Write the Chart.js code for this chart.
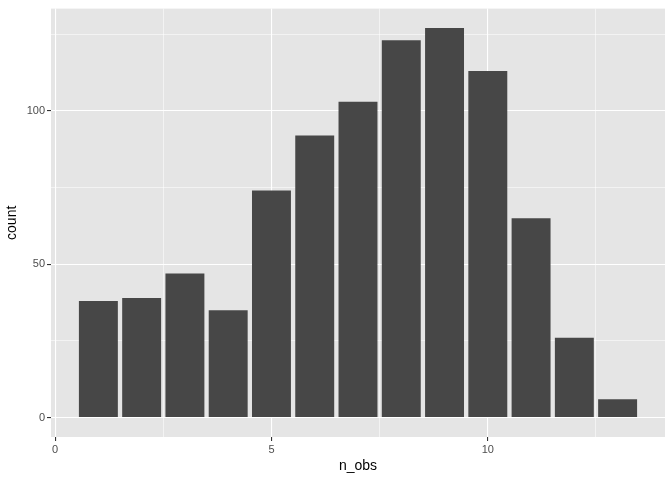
<!DOCTYPE html>
<html>
<head>
<meta charset="utf-8">
<script src="https://cdn.jsdelivr.net/npm/chart.js@4"></script>
<style>
  html, body { margin: 0; padding: 0; background: #ffffff; }
  #wrap { width: 672px; height: 480px; }
</style>
</head>
<body>
<div id="wrap"><canvas id="grafico"></canvas></div>
<script>
// Dados
const nObs = [1, 2, 3, 4, 5, 6, 7, 8, 9, 10, 11, 12, 13];
const contagens = [38, 39, 47, 35, 74, 92, 103, 123, 127, 113, 65, 26, 6];

// Linhas de grade (principais e secundárias) e rótulos dos eixos
const gradeX = [0, 2.5, 5, 7.5, 10, 12.5];
const rotulosX = [0, 5, 10];
const gradeY = [0, 25, 50, 75, 100, 125];
const rotulosY = [0, 50, 100];

const fonte = '"Liberation Sans", Arial, Helvetica, sans-serif';

// Fundo cinza do painel
const fundoPainel = {
    id: 'fundoPainel',
    beforeDraw(chart) {
        const { ctx, chartArea } = chart;
        ctx.save();
        ctx.fillStyle = '#E5E5E5';
        ctx.fillRect(chartArea.left, chartArea.top, chartArea.right - chartArea.left, chartArea.bottom - chartArea.top);
        ctx.restore();
    }
};

function eixo(grade, rotulos, min, max, titulo, tituloPad, tamanho) {
    const principal = v => rotulos.includes(v);
    return {
        type: 'linear',
        min: min,
        max: max,
        offset: false,
        afterBuildTicks: scale => { scale.ticks = grade.map(v => ({ value: v })); },
        afterFit: scale => {
            if (scale.isHorizontal()) scale.height = tamanho;
            else scale.width = tamanho;
        },
        border: { display: false },
        grid: {
            offset: false,
            color: '#ffffff',
            lineWidth: c => (c.tick && principal(c.tick.value)) ? 1.1 : 0.55,
            tickColor: c => (c.tick && principal(c.tick.value)) ? '#333333' : 'rgba(0,0,0,0)',
            tickLength: 4,
            tickWidth: 1.1
        },
        ticks: {
            autoSkip: false,
            maxRotation: 0,
            padding: 2,
            color: '#4D4D4D',
            font: { family: fonte, size: 11 },
            callback: v => principal(v) ? String(v) : ''
        },
        title: {
            display: true,
            text: titulo,
            color: '#000000',
            font: { family: fonte, size: 14 },
            padding: tituloPad
        }
    };
}

const ctx = document.getElementById('grafico').getContext('2d');
const grafico = new Chart(ctx, {
    type: 'bar',
    data: {
        datasets: [{
            label: 'count',
            data: nObs.map((x, i) => ({ x: x, y: contagens[i] })),
            backgroundColor: '#474747',
            borderWidth: 0,
            barPercentage: 0.9,
            categoryPercentage: 1.0
        }]
    },
    options: {
        responsive: true,
        maintainAspectRatio: false,
        animation: false,
        layout: { padding: { left: 0, right: 7, top: 7, bottom: 0 } },
        plugins: {
            legend: { display: false },
            tooltip: { enabled: false }
        },
        scales: {
            x: eixo(gradeX, rotulosX, -0.095, 14.095, 'n_obs', { top: 0, bottom: 5.6 }, 43),
            y: eixo(gradeY, rotulosY, -6.35, 133.35, 'count', { top: 3.6, bottom: 0 }, 51)
        }
    },
    plugins: [fundoPainel]
});
</script>
</body>
</html>
